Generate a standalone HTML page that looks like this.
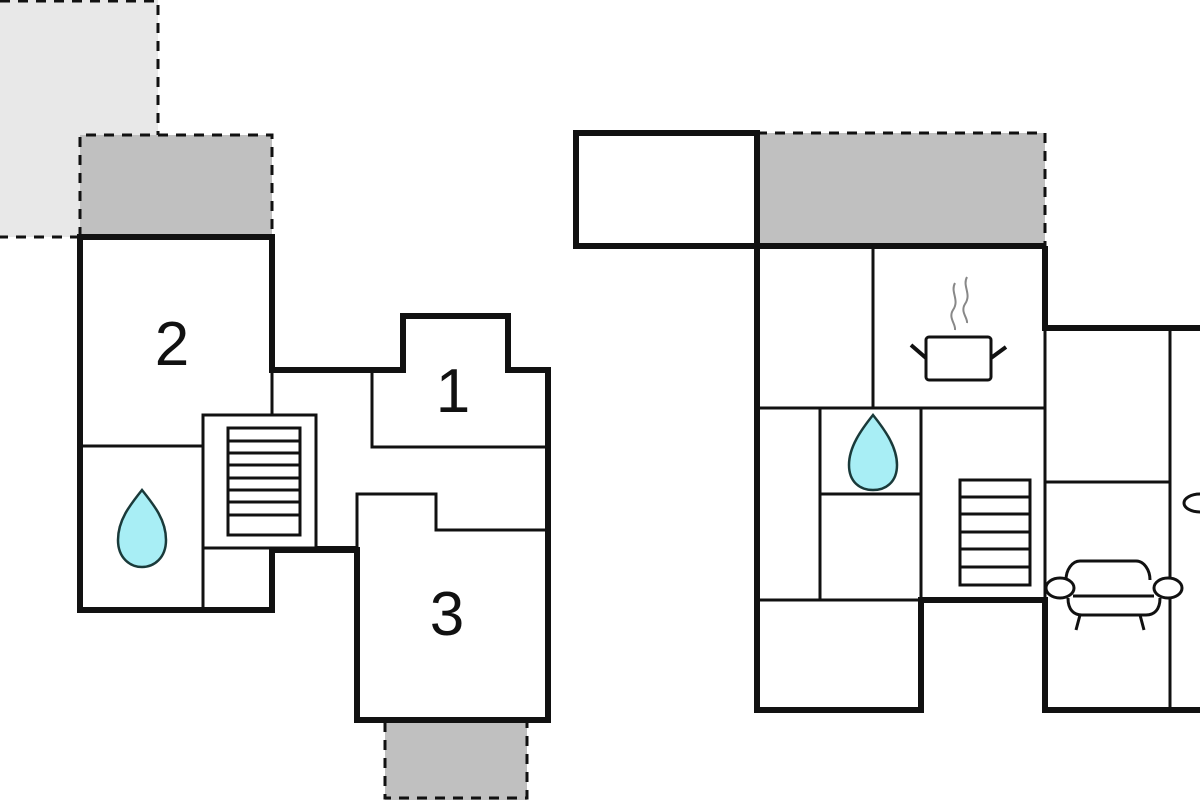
<!DOCTYPE html>
<html><head><meta charset="utf-8"><style>html,body{margin:0;padding:0;background:#fff}svg{display:block}</style></head>
<body>
<svg width="1200" height="800" viewBox="0 0 1200 800" xmlns="http://www.w3.org/2000/svg" font-family="Liberation Sans, sans-serif">
<rect x="0" y="0" width="158" height="237" fill="#e8e8e8"/>
<path d="M0,1 H158 V135 M80,237 H0" fill="none" stroke="#111" stroke-width="3" stroke-dasharray="10,8"/>
<rect x="80" y="135" width="192" height="102" fill="#c0c0c0"/>
<path d="M80,237 V135 H272 V237" fill="none" stroke="#111" stroke-width="3" stroke-dasharray="10,8"/>
<rect x="385" y="722" width="142" height="78" fill="#c0c0c0"/>
<path d="M385,722 V798 H527 V722" fill="none" stroke="#111" stroke-width="3" stroke-dasharray="10,8"/>
<g fill="none" stroke="#111" stroke-width="3">
<path d="M80,446 H203 V610"/>
<rect x="203" y="415" width="113" height="133"/>
<rect x="228" y="428" width="72" height="107"/>
<path d="M228,441 H300 M228,453 H300 M228,465 H300 M228,478 H300 M228,490 H300 M228,502 H300 M228,515 H300"/>
<path d="M272,415 V370"/>
<path d="M372,370 V447 H548"/>
<path d="M357,550 V494 H436 V530 H548"/>
</g>
<path d="M80,237 H272 V370 H403 V316 H508 V370 H548 V720 H357 V550 H272 V610 H80 Z" fill="none" stroke="#111" stroke-width="6"/>
<path d="M316,548 H357" stroke="#111" stroke-width="4"/>
<text x="172" y="365" font-size="62" text-anchor="middle" fill="#111">2</text>
<text x="453" y="412" font-size="62" text-anchor="middle" fill="#111">1</text>
<text x="447" y="635" font-size="62" text-anchor="middle" fill="#111">3</text>
<path d="M142,490 C130,505 118,520 118,540 C118,558 130,567 142,567 C154,567 166,558 166,540 C166,520 154,505 142,490 Z" fill="#a8eef5" stroke="#1a3a3a" stroke-width="2.5"/>

<rect x="757" y="133" width="288" height="113" fill="#c0c0c0"/>
<path d="M757,133 H1045 V246" fill="none" stroke="#111" stroke-width="3" stroke-dasharray="10,8"/>
<rect x="576" y="133" width="181" height="113" fill="none" stroke="#111" stroke-width="6"/>
<g fill="none" stroke="#111" stroke-width="3">
<path d="M873,246 V408"/>
<path d="M757,408 H1045"/>
<path d="M820,408 V600"/>
<path d="M921,408 V600"/>
<path d="M820,494 H921"/>
<path d="M757,600 H921"/>
<path d="M1045,328 V600"/>
<path d="M1170,328 V710"/>
<path d="M1045,482 H1170"/>
<rect x="960" y="480" width="70" height="105"/>
<path d="M960,497 H1030 M960,514 H1030 M960,532 H1030 M960,549 H1030 M960,567 H1030"/>
<rect x="926" y="337" width="65" height="43" rx="3"/>
<path d="M911,345 L926,358 M1006,347 L991,358" stroke-width="4"/>
<path d="M955,283 C950,292 960,300 953,310 C948,318 956,324 955,330 M967,277 C962,286 972,294 965,304 C960,312 968,318 967,323" stroke="#888" stroke-width="2"/>
<path d="M1066,580 C1066,570 1072,561 1080,561 H1136 C1144,561 1150,570 1150,580"/>
<ellipse cx="1060" cy="588" rx="14" ry="10" fill="#fff"/>
<ellipse cx="1168" cy="588" rx="14" ry="10" fill="#fff"/>
<path d="M1073,596 H1154 M1068,598 C1068,610 1074,615 1082,615 H1146 C1154,615 1160,610 1160,598"/>
<path d="M1080,615 L1076,630 M1140,615 L1144,630"/>
<ellipse cx="1200" cy="503" rx="16" ry="9"/>
</g>
<path d="M576,246 H1045 M757,246 V710 H921 V600 H1045 V710 H1200 M1045,246 V328 H1200" fill="none" stroke="#111" stroke-width="6"/>
<path d="M873,415 C861,430 849,447 849,465 C849,482 860,490 873,490 C886,490 897,482 897,465 C897,447 885,430 873,415 Z" fill="#a8eef5" stroke="#1a3a3a" stroke-width="2.5"/>
</svg>
</body></html>
